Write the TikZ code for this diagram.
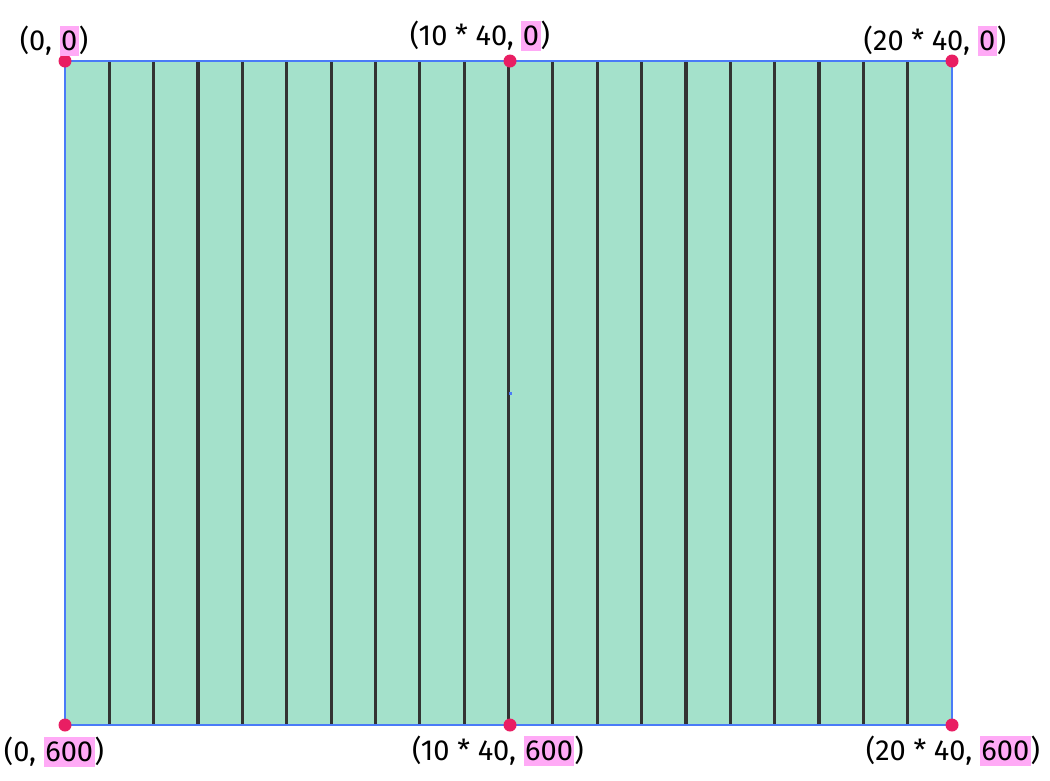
\documentclass[tikz,border=0pt]{standalone}
\usepackage{fontspec}
\setmainfont{Fira Sans}
\definecolor{mint}{HTML}{A4E1CB}
\definecolor{edgeblue}{HTML}{4A7BF7}
\definecolor{stripe}{HTML}{333333}
\definecolor{dotred}{HTML}{E91E63}
\definecolor{hl}{HTML}{FFAAF6}
\newcommand{\hlnum}[1]{{\setlength{\fboxsep}{1.5pt}\colorbox{hl}{\rule[-4pt]{0pt}{27pt}#1}}}
\tikzset{
  dotmark/.style={circle,fill=dotred,inner sep=0pt,minimum size=13pt},
  coordlabel/.style={anchor=base,inner sep=0pt,font=\fontsize{29}{35}\selectfont},
  stripeline/.style={draw=stripe,line width=3.2pt},
}
\begin{document}
\begin{tikzpicture}[x=1pt,y=-1pt]
\useasboundingbox (0,0) rectangle (1050,780);
\fill[white] (0,0) rectangle (1050,780);
% field
\fill[mint] (65,61) rectangle (952,725);
\foreach \i in {1,...,19}{
  \draw[stripeline] ({65+44.35*\i},61) -- ({65+44.35*\i},725);
}
\draw[gray!70,line width=1pt] (64.5,61) -- (64.5,725);
\draw[gray!70,line width=1pt] (952.5,61) -- (952.5,725);
\draw[edgeblue,line width=1.2pt] (65,61) rectangle (952,725);
\fill[edgeblue] (508.5,391.5) rectangle (511.5,394.5);
% dots
\node[dotmark] (tl) at (65,61) {};
\node[dotmark] (tm) at (510,61) {};
\node[dotmark] (tr) at (952,61) {};
\node[dotmark] (bl) at (65,725) {};
\node[dotmark] (bm) at (510,725) {};
\node[dotmark] (br) at (952,725) {};
% labels
\node[coordlabel] (ltl) at (54,50) {(0, \hlnum{0})};
\node[coordlabel] (ltm) at (480,45) {(10 * 40, \hlnum{0})};
\node[coordlabel] (ltr) at (935,50) {(20 * 40, \hlnum{0})};
\node[coordlabel] (lbl) at (54,761) {(0, \hlnum{600})};
\node[coordlabel] (lbm) at (498,760) {(10 * 40, \hlnum{600})};
\node[coordlabel] (lbr) at (953,760) {(20 * 40, \hlnum{600})};
\end{tikzpicture}
\end{document}
